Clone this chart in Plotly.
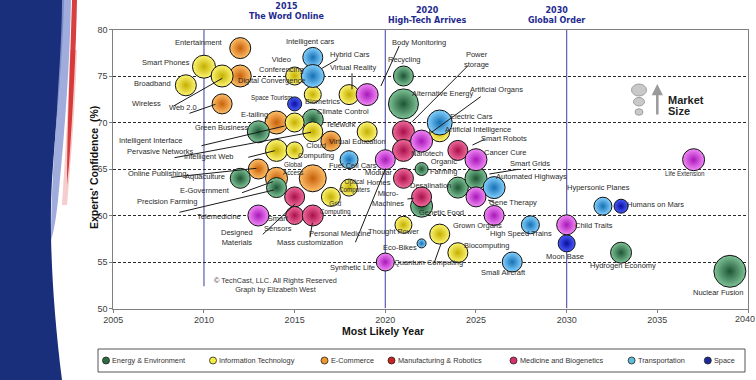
import plotly.graph_objects as go

W, H = 756, 380
# plot-area placement in pixels (x=2005 at 113.3px, 2040 at 748px; y=50 at 308.5px, 80 at 29.5px)
X0PX, X1PX = 113.3, 748.0
YBOT, YTOP = 308.5, 29.5

def px(x):
    return x / W

def py(y):
    return 1 - y / H

# ---------------- data ----------------
ecom_names = ["Entertainment", "Digital Convergence", "Web 2.0", "E-tailing", "Virtual Education",
              "Online Publishing", "E-Government", "Global Access"]
ecom_years = [2012, 2012, 2011, 2014, 2017, 2013, 2014, 2016]
ecom_conf = [78, 75, 72, 70, 68, 65, 64, 64]
ecom_size = [21, 22, 20, 23, 20, 20, 22, 27]

energy_names = ["Climate Control", "Green Business", "Aquaculture", "Precision Farming", "Recycling",
                "Alternative Energy", "Organic Farming", "Genetic Food", "Desalination", "Smart Grids",
                "Hydrogen Economy", "Nuclear Fusion"]
energy_years = [2016, 2013, 2012, 2014, 2021, 2021, 2022, 2022, 2024, 2025, 2033, 2039]
energy_conf = [70.3, 69, 64, 63, 75, 72, 65, 61, 63, 64, 56, 54]
energy_size = [21, 22, 20, 20, 20, 30, 13, 22, 21, 22, 21, 32]

it_names = ["Smart Phones", "Broadband", "Wireless", "Video Conferencing", "Biometrics", "Virtual Reality",
            "Intelligent Interface", "Pervasive Networks", "Telework", "Intelligent Web", "Cloud Computing",
            "Grid Computing", "Optical Computers", "Artificial Intelligence", "Thought Power",
            "Quantum Computing", "Biocomputing"]
it_years = [2010, 2009, 2011, 2015, 2016, 2018, 2015, 2016, 2019, 2014, 2015, 2017, 2018, 2023, 2021,
            2023, 2024]
it_conf = [76, 74, 75, 75, 73, 73, 70, 69, 69, 67, 67, 62, 63, 69, 59, 58, 56]
it_size = [23, 21, 22, 18, 17, 20, 19, 20, 20, 22, 17, 19, 17, 20, 17, 20, 20]

trans_names = ["Intelligent Cars", "Hybrid Cars", "Fuel Cell Cars", "Electric Cars", "Automated Highways",
               "High Speed Trains", "Eco-Bikes", "Small Aircraft", "Hypersonic Planes"]
trans_years = [2016, 2016, 2018, 2023, 2026, 2028, 2022, 2027, 2032]
trans_conf = [77, 75, 66, 70, 63, 59, 57, 55, 61]
trans_size = [20, 23, 18, 25, 22, 18, 9, 20, 18]

space_names = ["Space Tourism", "Moon Base", "Humans on Mars"]
space_years = [2015, 2030, 2033]
space_conf = [72, 57, 61]
space_size = [14, 17, 14]

mfg_names = ["Designed Materials", "Smart Sensors", "Mass Customization", "Power Storage", "Nanotech",
             "Modular Homes", "Micro-Machines", "Smart Robots"]
mfg_years = [2015, 2015, 2016, 2021, 2021, 2021, 2022, 2024]
mfg_conf = [62, 60, 60, 69, 67, 64, 62, 67]
mfg_size = [20, 18, 21, 22, 22, 20, 20, 20]

med_names = ["Telemedicine", "Body Monitoring", "Personal Medicine", "Artificial Organs", "Cancer Cure",
             "Gene Therapy", "Grown Organs", "Synthetic Life", "Child Traits", "Life Extension"]
med_years = [2013, 2019, 2020, 2022, 2025, 2025, 2026, 2020, 2030, 2037]
med_conf = [60, 73, 66, 68, 66, 62, 60, 55, 59, 66]
med_size = [21, 22, 20, 22, 22, 20, 20, 18, 20, 22]

legend_labels = ["Energy & Environment", "Information Technology", "E-Commerce",
                 "Manufacturing & Robotics", "Medicine and Biogenetics", "Transportation", "Space"]

# ---------------- styles ----------------
groups = [
    (ecom_names, ecom_years, ecom_conf, ecom_size, "#ffc06a", "#c8600a"),
    (energy_names, energy_years, energy_conf, energy_size, "#7fc498", "#1d5534"),
    (it_names, it_years, it_conf, it_size, "#fff676", "#c4b000"),
    (trans_names, trans_years, trans_conf, trans_size, "#86d2ff", "#1570b4"),
    (space_names, space_years, space_conf, space_size, "#4a5cff", "#0a0f9c"),
    (mfg_names, mfg_years, mfg_conf, mfg_size, "#f26c9e", "#a8104a"),
    (med_names, med_years, med_conf, med_size, "#f38af8", "#a818b8"),
]
legend_colors = ["#2e6b3e", "#f5ee40", "#f0962a", "#cc2222", "#d8306c", "#60bcd8", "#1a2a96"]
legend_marker_px = [106, 213, 324.5, 391.5, 513.5, 631.6, 707.8]

fig = go.Figure()
for names, xs, ys, ss, c_in, c_out in groups:
    fig.add_trace(go.Scatter(
        x=xs, y=ys, text=names, mode="markers", showlegend=False,
        hovertemplate="%{text}<br>%{x}: %{y}%<extra></extra>",
        marker=dict(size=ss, sizemode="diameter", color=c_in,
                    gradient=dict(type="radial", color=c_out),
                    line=dict(color="#111111", width=1), opacity=1),
    ))

# legend markers on a pixel-space overlay axis
fig.add_trace(go.Scatter(
    x=legend_marker_px, y=[360.5] * len(legend_marker_px), mode="markers", showlegend=False,
    xaxis="x2", yaxis="y2", hoverinfo="skip",
    marker=dict(size=7, color=legend_colors, line=dict(color="#222", width=0.8)),
))

# ---------------- text labels (pixel positions) ----------------
labels = [
    ("Entertainment", 198.6, 42.3), ("Smart Phones", 166.3, 62), ("Broadband", 152.4, 83),
    ("Wireless", 146.1, 103.3), ("Web 2.0", 183.2, 107.7), ("Intelligent cars", 310, 41),
    ("Hybrid Cars", 349.6, 54.3), ("Video<br>Conferencing", 281, 64.5),
    ("Digital Convergence", 272.4, 80.3), ("Virtual Reality", 353.4, 67.3),
    ("Body Monitoring", 418.5, 42.3), ("Recycling", 404, 59.7), ("Power<br>storage", 476, 59),
    ("Alternative Energy", 442.6, 93), ("Artificial Organs", 496.6, 89.3),
    ("Biometrics", 322, 101.7), ("Climate Control", 343.3, 111.7),
    ("E-tailing", 254.6, 114), ("Green Business", 221.8, 128), ("Telework", 341.4, 124.7),
    ("Electric Cars", 471.6, 117), ("Artificial Intelligence", 478.3, 129),
    ("Smart Robots", 503.9, 138.3), ("Intelligent Interface", 150.4, 141),
    ("Virtual Education", 357.8, 141.7), ("Pervasive Networks", 160.6, 151.7),
    ("Cloud<br>Computing", 316, 150.7), ("Nanotech", 426.7, 153.3), ("Cancer Cure", 505.3, 152),
    ("Intelligent Web", 208.3, 156.7), ("Fuel Cell Cars", 353, 165.7),
    ("Organic<br>Farming", 443.6, 166.7), ("Smart Grids", 530.4, 163.3),
    ("Online Publishing", 156.7, 173.3), ("Aquaculture", 204.9, 176.7),
    ("Modular<br>Homes", 378.5, 177), ("Automated Highways", 531.3, 176.7),
    ("E-Government", 204.9, 190.3), ("Desalination", 430.6, 185),
    ("Hypersonic Planes", 598.8, 187.3), ("Micro-<br>Machines", 388, 198.3),
    ("Precision Farming", 167.3, 201.7), ("Gene Therapy", 513, 202.3),
    ("Humans on Mars", 655.7, 204.7), ("Genetic Food", 441.2, 212.3),
    ("Telemedicine", 219.4, 216), ("Smart<br>Sensors", 278, 223.5),
    ("Grown Organs", 477.3, 225.7), ("Child Traits", 594, 225.3),
    ("High Speed Trains", 520.7, 233.3), ("Designed<br>Materials", 237.2, 237.3),
    ("Personal Medicine", 340, 233.3), ("Thought Power", 393, 231.3),
    ("Mass customization", 310, 242), ("Eco-Bikes", 400.2, 247), ("Biocomputing", 486, 245),
    ("Moon Base", 565, 256), ("Quantum Computing", 428.2, 262.7),
    ("Hydrogen Economy", 623, 265), ("Synthetic Life", 352, 267), ("Small Aircraft", 503.9, 272.7),
    ("Nuclear Fusion", 718.4, 292.3),
]
small_labels = [
    ("Space Tourism", 272.4, 97.7), ("Global<br>Access", 293.2, 168.3),
    ("Optical<br>Computers", 354, 185.7), ("Grid<br>Computing", 335, 208.3),
    ("Life Extension", 684.7, 173.7),
]
leader_lines = [
    (173.6, 106, 222.3, 78.3), (189.5, 113.3, 215.5, 104.3), (322, 68.3, 337.5, 59.3),
    (352, 73.3, 352, 89.3), (380.9, 86, 399.2, 46), (412.2, 121.7, 467.7, 66),
    (431.5, 132.3, 480.7, 96.7), (201.5, 145.7, 284.5, 126), (174.5, 157.7, 311, 132.3),
    (248.3, 157.3, 274.8, 150.7), (171.2, 177.3, 256.5, 168.3), (242, 192.7, 272.9, 181.7),
    (179.4, 212.3, 273.9, 190), (262.8, 234.3, 295.1, 204), (310, 237.3, 312.4, 222.7),
    (355.4, 242.3, 385.7, 168.3), (472.5, 145, 484.6, 139.3), (489.4, 174, 518.3, 169.3),
    (488, 200, 494.2, 202.3), (434, 263.3, 441.2, 243.3), (407.4, 199, 413.7, 198.3),
]

LABEL_FONT = "Liberation Sans Narrow, Liberation Sans, Arial, sans-serif"
ann = []
for t, x, y in labels:
    ann.append(dict(text=t, x=px(x), y=py(y), xref="paper", yref="paper", showarrow=False,
                    font=dict(family=LABEL_FONT, size=7.5, color="#2a2a2a"), xanchor="center",
                    yanchor="middle"))
for t, x, y in small_labels:
    ann.append(dict(text=t, x=px(x), y=py(y), xref="paper", yref="paper", showarrow=False,
                    font=dict(family=LABEL_FONT, size=6.3, color="#2a2a2a"), xanchor="center",
                    yanchor="middle"))

TITLE_FONT = dict(family="DejaVu Sans, Verdana, sans-serif", size=8, color="#1f2a8f")
for t, x, y in [("<b>2015<br>The Word Online</b>", 287, 12),
                ("<b>2020<br>High-Tech Arrives</b>", 427.5, 15),
                ("<b>2030<br>Global Order</b>", 556, 15)]:
    ann.append(dict(text=t, x=px(x), y=py(y), xref="paper", yref="paper", showarrow=False,
                    font=TITLE_FONT, xanchor="center", yanchor="middle"))

ann.append(dict(text="<b>Experts' Confidence  (%)</b>", x=px(86), y=py(168), xref="paper",
                yref="paper", showarrow=False, textangle=-90,
                font=dict(family="Liberation Sans, Arial", size=10.5, color="#111")))
ann.append(dict(text="<b>Most Likely Year</b>", x=px(383), y=py(337.5), xref="paper", yref="paper",
                showarrow=False, borderpad=0,
                font=dict(family="Liberation Sans, Arial", size=10.5, color="#111")))
# last x tick label (at the page edge, as in the original)
ann.append(dict(text="2040", x=1.0, y=py(318.5), xref="paper", yref="paper", showarrow=False,
                xanchor="right", yanchor="middle", borderpad=0,
                font=dict(family="Liberation Sans, Arial", size=9, color="#404040")))
ann.append(dict(text="© TechCast, LLC. All Rights Reserved<br>Graph by Elizabeth West",
                x=px(212.3), y=py(296.3), xref="paper", yref="paper", showarrow=False,
                font=dict(family="Liberation Sans, Arial", size=7.3, color="#333")))
# market size key
ann.append(dict(text="<b>Market</b>", x=px(665.5), y=py(91.5), xref="paper", yref="paper",
                showarrow=False, xanchor="left",
                font=dict(family="Liberation Sans, Arial", size=11, color="#222")))
ann.append(dict(text="<b>Size</b>", x=px(665.5), y=py(103), xref="paper", yref="paper",
                showarrow=False, xanchor="left",
                font=dict(family="Liberation Sans, Arial", size=11, color="#222")))
ann.append(dict(text="", x=657.3, y=84, ax=657.3, ay=116, xref="x2", yref="y2",
                axref="x2", ayref="y2", showarrow=True, arrowhead=2, arrowsize=0.9,
                arrowwidth=2.5, arrowcolor="#9a9a9a", standoff=0, startstandoff=0))
# legend texts
for lab, mx in zip(legend_labels, legend_marker_px):
    ann.append(dict(text=lab, x=px(mx + 4), y=py(360.5), xref="paper", yref="paper",
                    showarrow=False, xanchor="left", yanchor="middle",
                    font=dict(family="Liberation Sans, Arial", size=7.3, color="#333")))

# ---------------- shapes ----------------
def ppath(cmds):
    out = []
    for c in cmds:
        if isinstance(c, str):
            out.append(c)
        else:
            out.append(f"{px(c[0]):.5f},{py(c[1]):.5f}")
    return " ".join(out)

shapes = []
# left decorative panel
shapes.append(dict(type="path", xref="paper", yref="paper", line=dict(width=0), fillcolor="#1a2f7c",
                   path=ppath(["M", (0, 0), "L", (64, 0), "C", (63, 60), (56, 120), (52, 180),
                               "C", (49, 230), (52, 300), (62, 380), "L", (0, 380), "Z"])))
shapes.append(dict(type="path", xref="paper", yref="paper", line=dict(width=0), fillcolor="#8f9dd6",
                   opacity=0.85,
                   path=ppath(["M", (62, 0), "L", (71, 0), "C", (70, 60), (65, 130), (58, 200),
                               "C", (56, 220), (53, 235), (51, 240), "C", (51, 200), (54, 150),
                               (57, 110), "C", (60, 60), (62, 30), (62, 0), "Z"])))
shapes.append(dict(type="path", xref="paper", yref="paper", line=dict(width=0), fillcolor="#f2b6b6",
                   opacity=0.7,
                   path=ppath(["M", (70, 50), "L", (77, 50), "C", (75, 110), (71, 160), (67, 205),
                               "L", (62, 205), "C", (65, 160), (68, 110), (70, 50), "Z"])))
shapes.append(dict(type="path", xref="paper", yref="paper", line=dict(width=0), fillcolor="#d42a2a",
                   opacity=0.9,
                   path=ppath(["M", (72, 0), "L", (77, 0), "C", (76, 50), (73, 110), (69, 165),
                               "L", (67, 185), "C", (67, 130), (70, 70), (72, 0), "Z"])))
# epoch lines
for yr, ylow in [(2010, 52.4), (2020, 50), (2030, 50)]:
    shapes.append(dict(type="line", xref="x", yref="y", x0=yr, x1=yr, y0=ylow, y1=80, layer="below",
                       line=dict(color="#5c5cb0", width=1.2)))
# leader lines
for x0, y0, x1, y1 in leader_lines:
    shapes.append(dict(type="line", xref="paper", yref="paper", x0=px(x0), y0=py(y0), x1=px(x1),
                       y1=py(y1), line=dict(color="#1a1a1a", width=1)))
# market size ellipses
for cx, cy, w, h in [(639, 90, 15, 12), (639, 101.7, 11, 8.5), (639, 112, 8, 6.5)]:
    shapes.append(dict(type="circle", xref="paper", yref="paper", x0=px(cx - w / 2), x1=px(cx + w / 2),
                       y0=py(cy + h / 2), y1=py(cy - h / 2), fillcolor="#c9c9c9",
                       line=dict(color="#a0a0a0", width=1)))
# legend box
shapes.append(dict(type="rect", xref="paper", yref="paper", x0=px(98), x1=px(745), y0=py(372),
                   y1=py(349), line=dict(color="#555", width=1), fillcolor="rgba(0,0,0,0)"))

fig.update_layout(
    width=W, height=H, margin=dict(l=0, r=0, t=0, b=0, pad=0),
    paper_bgcolor="white", plot_bgcolor="rgba(0,0,0,0)", showlegend=False,
    annotations=ann, shapes=shapes,
    xaxis=dict(domain=[X0PX / W, X1PX / W], range=[2005, 2040], tick0=2005, dtick=5,
               showgrid=False, zeroline=False, showline=True, mirror=True, linecolor="#808080",
               linewidth=1, ticks="outside", ticklen=3, tickcolor="#808080", automargin=False,
               tickfont=dict(family="Liberation Sans, Arial", size=9, color="#404040"),
               fixedrange=True),
    yaxis=dict(domain=[1 - YBOT / H, 1 - YTOP / H], range=[50, 80], tick0=50, dtick=5,
               showgrid=True, gridcolor="#2a2a2a", gridwidth=0.8, griddash="3px,2px",
               zeroline=False, showline=True, mirror=True, linecolor="#808080", linewidth=1,
               ticks="outside", ticklen=3, tickcolor="#808080", automargin=False,
               tickfont=dict(family="Liberation Sans, Arial", size=9, color="#404040"),
               fixedrange=True),
    xaxis2=dict(domain=[0, 1], range=[0, W], visible=False, anchor="y2", fixedrange=True),
    yaxis2=dict(domain=[0, 1], range=[H, 0], visible=False, anchor="x2", fixedrange=True),
)

fig.write_html("out.html", config={"displayModeBar": False},
               post_script="document.body.style.margin='0';document.body.style.padding='0';"
                           "document.body.style.overflow='hidden';")
